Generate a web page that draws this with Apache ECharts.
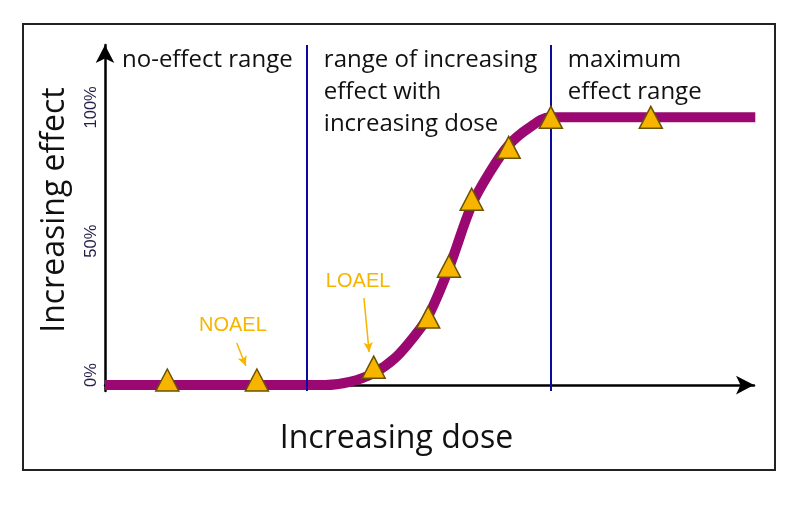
<!DOCTYPE html>
<html>
<head>
<meta charset="utf-8">
<script src="https://cdn.jsdelivr.net/npm/echarts@6/dist/echarts.min.js"></script>
<style>
  html, body { margin: 0; padding: 0; background: #fff; }
  #container { width: 789px; height: 513px; }
</style>
</head>
<body>
<div id="container"></div>
<script>
// dose (0-100 along the x axis) and effect (%)
var curveDose   = [0, 20, 33.9, 37.7, 41.4, 44.7, 47.8, 49.8, 53.0, 56.5, 59.3, 62.2, 65.3, 68.6, 75, 100.2];
var curveEffect = [0, 0, 0, 1.2, 4.5, 10.1, 18.7, 25.7, 43.7, 67.2, 79.5, 89.6, 96.0, 100, 100, 100];

var pointDose   = [9.6, 23.4, 41.4, 49.8, 53.0, 56.5, 62.2, 68.7, 84.1];
var pointEffect = [1.9, 1.9, 6.7, 25.4, 44.4, 69.4, 88.8, 100, 100];

var rangeBreaks = [0, 31.1, 68.7, 100];
var rangeNames  = ['no-effect range', 'range of increasing\neffect with\nincreasing dose', 'maximum\neffect range'];

var yTicks = [0, 50, 100];

var notes = [
    {name: 'NOAEL', text: [19.7, 22.4], from: [20.3, 15.7], to: [21.7, 7.1]},
    {name: 'LOAEL', text: [39.0, 38.8], from: [39.9, 32.5], to: [40.7, 12.3]}
];

var FONT = 'Open Sans';
var ORANGE = '#f7b500';

function zip(a, b) {
    let out = [];
    for (let i = 0; i < a.length; i++) {
        out.push([a[i], b[i]]);
    }
    return out;
}

function init() {
    let myChart = echarts.init(document.getElementById('container'), null, {renderer: 'canvas'});

    let areas = [];
    for (let i = 0; i < rangeNames.length; i++) {
        areas.push([
            {name: rangeNames[i], xAxis: rangeBreaks[i]},
            {xAxis: rangeBreaks[i + 1]}
        ]);
    }

    let noteLines = [];
    let noteLabels = [];
    notes.forEach(function (n) {
        noteLines.push([{coord: n.from}, {coord: n.to}]);
        noteLabels.push({name: n.name, coord: n.text});
    });

    let option = {
        backgroundColor: '#fff',
        animation: false,
        grid: {left: 105, right: 35, top: 45, bottom: 122},
        xAxis: {
            type: 'value',
            min: 0,
            max: 100,
            name: 'Increasing dose',
            nameLocation: 'middle',
            nameGap: 32,
            nameTextStyle: {fontFamily: FONT, fontSize: 32, color: '#111', padding: [0, 66, 0, 0]},
            axisLine: {
                lineStyle: {color: '#000', width: 2.5},
                symbol: ['none', 'arrow'],
                symbolSize: [14, 18]
            },
            axisTick: {show: false},
            axisLabel: {show: false},
            splitLine: {show: false}
        },
        yAxis: {
            type: 'value',
            min: -2.2,
            max: 127,
            name: 'Increasing effect',
            nameLocation: 'middle',
            nameRotate: 90,
            nameGap: 34,
            nameTextStyle: {fontFamily: FONT, fontSize: 32, color: '#111', padding: [0, 0, 0, 16]},
            axisLine: {
                lineStyle: {color: '#000', width: 2.5},
                symbol: ['none', 'arrow'],
                symbolSize: [14, 18]
            },
            axisTick: {show: false},
            axisLabel: {
                customValues: yTicks,
                rotate: 90,
                margin: 5,
                fontFamily: 'Liberation Sans',
                fontSize: 16.5,
                color: '#261c48',
                padding: [0, 0, 0, 20],
                formatter: function (v) { return v + '%'; }
            },
            splitLine: {show: false}
        },
        series: [
            {
                name: 'response',
                type: 'line',
                data: zip(curveDose, curveEffect),
                smooth: 0.35,
                showSymbol: false,
                lineStyle: {color: '#9b0872', width: 10, cap: 'butt'},
                z: 2,
                markArea: {
                    silent: true,
                    itemStyle: {color: 'rgba(0,0,0,0)'},
                    label: {
                        position: 'insideTopLeft',
                        offset: [12, -6],
                        fontFamily: FONT,
                        fontSize: 24,
                        lineHeight: 32,
                        color: '#111'
                    },
                    data: areas
                },
                markLine: {
                    silent: true,
                    symbol: 'none',
                    label: {show: false},
                    lineStyle: {color: '#0a0aa0', width: 2, type: 'solid'},
                    data: [{xAxis: rangeBreaks[1]}, {xAxis: rangeBreaks[2]}]
                }
            },
            {
                name: 'points',
                type: 'scatter',
                data: zip(pointDose, pointEffect),
                symbol: 'triangle',
                symbolSize: [23, 22],
                itemStyle: {color: ORANGE, opacity: 1, borderColor: '#6b5200', borderWidth: 1.5},
                z: 5
            },
            {
                name: 'notes',
                type: 'line',
                data: [],
                markLine: {
                    silent: true,
                    symbol: ['none', 'arrow'],
                    symbolSize: [7, 10],
                    label: {show: false},
                    lineStyle: {color: ORANGE, width: 1.5, type: 'solid'},
                    data: noteLines
                },
                markPoint: {
                    silent: true,
                    symbol: 'circle',
                    symbolSize: 0,
                    label: {
                        show: true,
                        position: 'inside',
                        formatter: '{b}',
                        fontFamily: 'Liberation Sans',
                        fontSize: 20,
                        color: ORANGE
                    },
                    data: noteLabels
                }
            }
        ],
        graphic: [{
            type: 'rect',
            shape: {x: 23, y: 24, width: 752, height: 446},
            style: {fill: 'none', stroke: '#222', lineWidth: 2},
            silent: true
        }]
    };

    myChart.setOption(option, true);
}

init();
</script>
</body>
</html>
